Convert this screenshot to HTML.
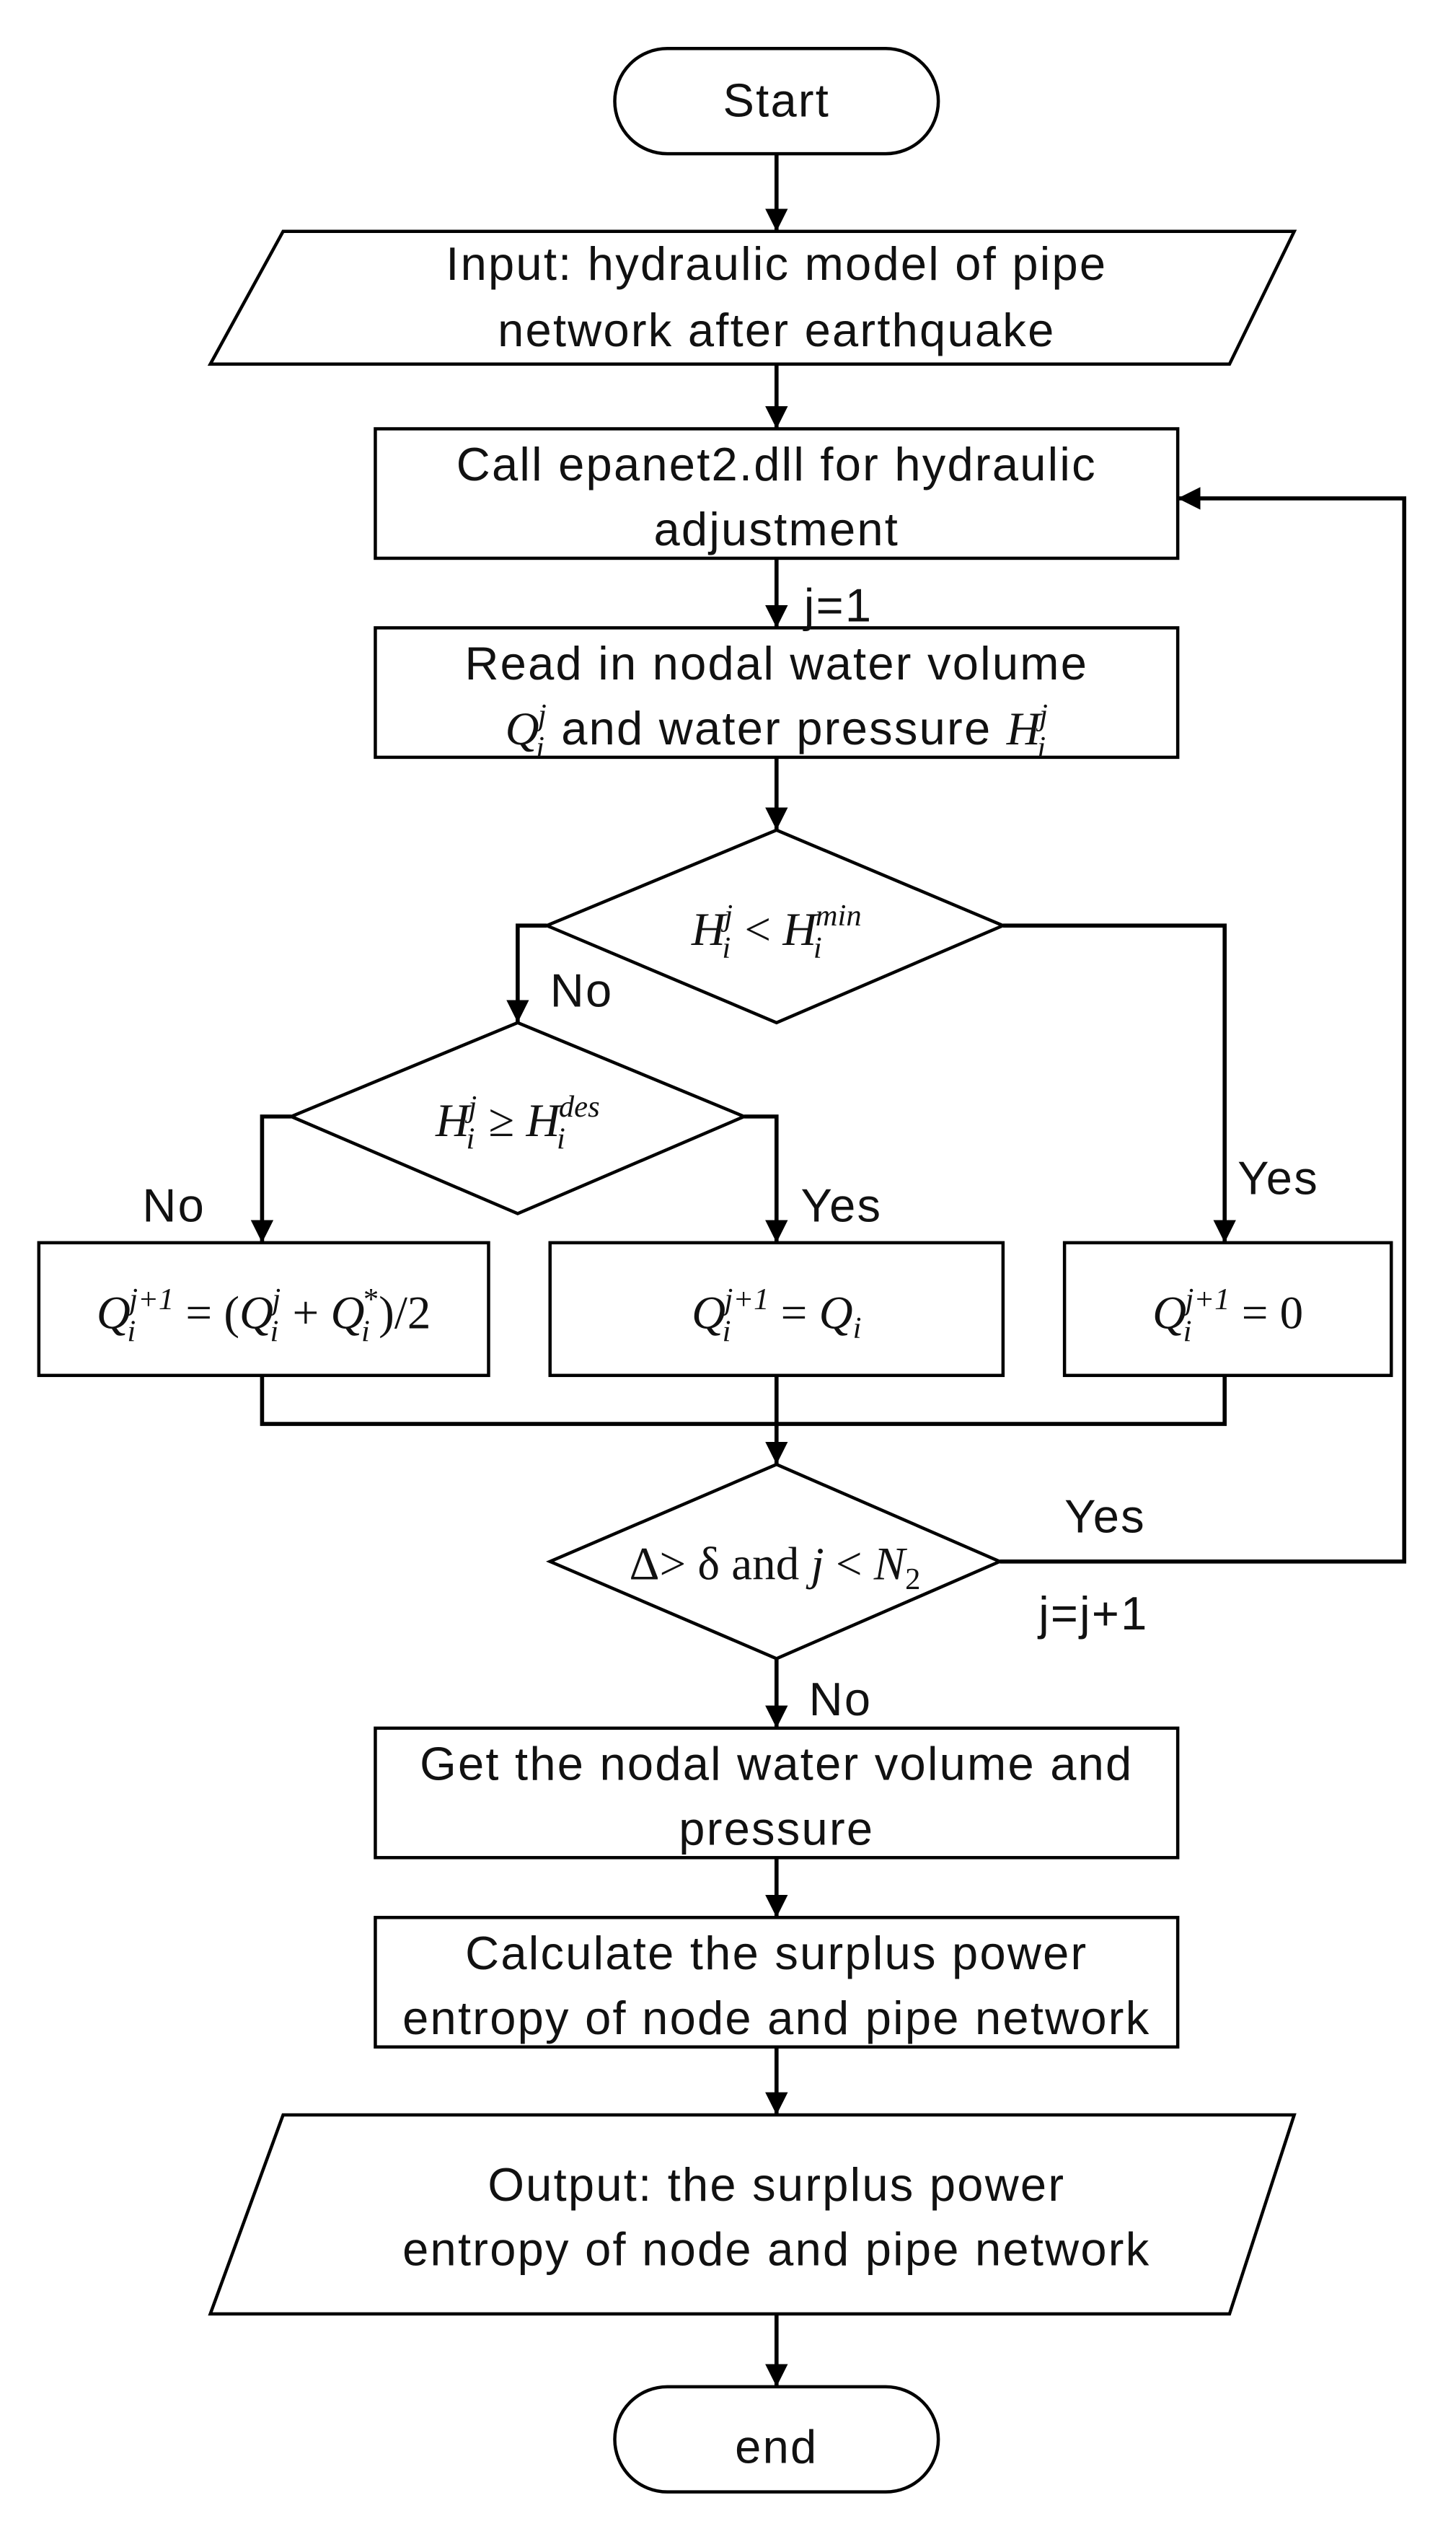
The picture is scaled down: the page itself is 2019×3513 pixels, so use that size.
<!DOCTYPE html>
<html><head><meta charset="utf-8"><style>
html,body{margin:0;padding:0;background:#fff}
svg{display:block}
.t{font-family:"Liberation Sans",sans-serif;font-size:29px;letter-spacing:1px;fill:#111}
.m{font-family:"Liberation Serif",serif;font-size:29px;fill:#111;letter-spacing:0}
.i{font-style:italic}
.s{font-size:19px}
</style></head><body>
<svg width="2019" height="3513" viewBox="0 0 900 1566" preserveAspectRatio="none" xmlns="http://www.w3.org/2000/svg">
<defs>
<marker id="b" viewBox="0 0 10 10" markerWidth="14" markerHeight="14" refX="10" refY="5" orient="auto" markerUnits="userSpaceOnUse"><path d="M0,0 L10,5 L0,10 z" fill="#000"/></marker></defs>
<g fill="none" stroke="#000" stroke-width="2">
<rect x="380" y="30" width="200" height="65" rx="32.5"/>
<polygon points="175,143 800,143 760,225 130,225"/>
<rect x="232" y="265" width="496" height="80"/>
<rect x="232" y="388" width="496" height="80"/>
<polygon points="480,513 620,572 480,632 338,572"/>
<polygon points="320,632 460,690 320,750 180,690"/>
<rect x="24" y="768" width="278" height="82"/>
<rect x="340" y="768" width="280" height="82"/>
<rect x="658" y="768" width="202" height="82"/>
<polygon points="480,905 618,965 480,1025 340,965"/>
<rect x="232" y="1068" width="496" height="80"/>
<rect x="232" y="1185" width="496" height="80"/>
<polygon points="175,1307 800,1307 760,1430 130,1430"/>
<rect x="380" y="1475" width="200" height="65" rx="32.5"/>
</g>
<g fill="none" stroke="#000" stroke-width="2.5" marker-end="url(#b)">
<line x1="480" y1="95" x2="480" y2="143"/>
<line x1="480" y1="225" x2="480" y2="265"/>
<line x1="480" y1="345" x2="480" y2="388"/>
<line x1="480" y1="468" x2="480" y2="513"/>
<polyline points="338,572 320,572 320,632"/>
<polyline points="180,690 162,690 162,768"/>
<polyline points="460,690 480,690 480,768"/>
<polyline points="620,572 757,572 757,768"/>
<line x1="480" y1="850" x2="480" y2="905"/>
<polyline points="618,965 868,965 868,308 728,308"/>
<line x1="480" y1="1025" x2="480" y2="1068"/>
<line x1="480" y1="1148" x2="480" y2="1185"/>
<line x1="480" y1="1265" x2="480" y2="1307"/>
<line x1="480" y1="1430" x2="480" y2="1475"/>
</g>
<g fill="none" stroke="#000" stroke-width="2.5">
<polyline points="162,850 162,880 757,880 757,850"/>
</g>
<g class="t" text-anchor="middle">
<text x="480" y="72">Start</text>
<text x="480" y="173">Input: hydraulic model of pipe</text>
<text x="480" y="214">network after earthquake</text>
<text x="480" y="297">Call epanet2.dll for hydraulic</text>
<text x="480" y="337">adjustment</text>
<text x="480" y="420">Read in nodal water volume</text>
<text x="480" y="1100">Get the  nodal water volume and</text>
<text x="480" y="1140">pressure</text>
<text x="480" y="1217">Calculate the surplus power</text>
<text x="480" y="1257">entropy of node and pipe network</text>
<text x="480" y="1360">Output: the surplus power</text>
<text x="480" y="1400">entropy of node and pipe network</text>
<text x="480" y="1522">end</text>
</g>
<g class="t">
<text x="497" y="384">j=1</text>
<text x="340" y="622">No</text>
<text x="88" y="755">No</text>
<text x="495" y="755">Yes</text>
<text x="765" y="738">Yes</text>
<text x="658" y="947">Yes</text>
<text x="642" y="1007">j=j+1</text>
<text x="500" y="1060">No</text>
</g>
<text class="t" x="480" y="460" text-anchor="middle"><tspan class="m i">Q</tspan><tspan class="m i s" dx="-2" dy="8">i</tspan><tspan class="m i s" dx="-4" dy="-20">j</tspan><tspan dy="12">  and water pressure </tspan><tspan class="m i">H</tspan><tspan class="m i s" dx="-2" dy="8">i</tspan><tspan class="m i s" dx="-4" dy="-20">j</tspan></text>
<text class="m" x="480" y="584" text-anchor="middle"><tspan class="i">H</tspan><tspan class="i s" dx="-2" dy="8">i</tspan><tspan class="i s" dx="-4" dy="-20">j</tspan><tspan dy="12">   &lt;  </tspan><tspan class="i">H</tspan><tspan class="i s" dx="-2" dy="8">i</tspan><tspan class="i s" dx="-4" dy="-20">min</tspan></text>
<text class="m" x="320" y="702" text-anchor="middle"><tspan class="i">H</tspan><tspan class="i s" dx="-2" dy="8">i</tspan><tspan class="i s" dx="-4" dy="-20">j</tspan><tspan dy="12">   ≥  </tspan><tspan class="i">H</tspan><tspan class="i s" dx="-2" dy="8">i</tspan><tspan class="i s" dx="-4" dy="-20">des</tspan></text>
<text class="m" x="163" y="821" text-anchor="middle"><tspan class="i">Q</tspan><tspan class="i s" dx="-2" dy="8">i</tspan><tspan class="i s" dx="-4" dy="-20">j+1</tspan><tspan dy="12">  = (</tspan><tspan class="i">Q</tspan><tspan class="i s" dx="-2" dy="8">i</tspan><tspan class="i s" dx="-4" dy="-20">j</tspan><tspan dy="12">  +  </tspan><tspan class="i">Q</tspan><tspan class="i s" dx="-2" dy="8">i</tspan><tspan class="s" dx="-4" dy="-20">*</tspan><tspan dy="12">)/2</tspan></text>
<text class="m" x="480" y="821" text-anchor="middle"><tspan class="i">Q</tspan><tspan class="i s" dx="-2" dy="8">i</tspan><tspan class="i s" dx="-4" dy="-20">j+1</tspan><tspan dy="12">  =  </tspan><tspan class="i">Q</tspan><tspan class="i s" dy="6">i</tspan></text>
<text class="m" x="759" y="821" text-anchor="middle"><tspan class="i">Q</tspan><tspan class="i s" dx="-2" dy="8">i</tspan><tspan class="i s" dx="-4" dy="-20">j+1</tspan><tspan dy="12">  =  0</tspan></text>
<text class="m" x="479" y="976" text-anchor="middle">Δ&gt;  δ   and   <tspan class="i">j</tspan>  &lt;  <tspan class="i">N</tspan><tspan class="s" dy="6">2</tspan></text>
</svg>
</body></html>
